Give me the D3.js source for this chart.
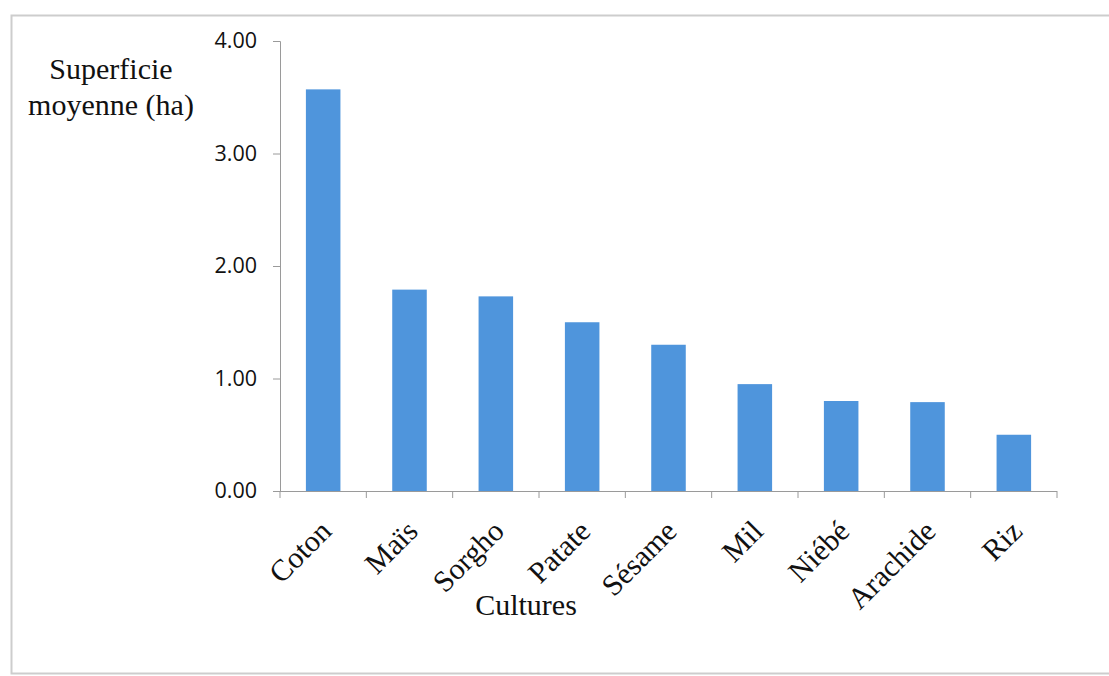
<!DOCTYPE html>
<html>
<head>
<meta charset="utf-8">
<script src="https://cdn.jsdelivr.net/npm/d3@7"></script>
<style>
  html, body { margin: 0; padding: 0; background: #fff; }
  svg { display: block; }
</style>
</head>
<body>
<svg id="chart"></svg>
<script>
// Superficie moyenne par culture (ha)
const cultures = ['Coton', 'Maïs', 'Sorgho', 'Patate', 'Sésame', 'Mil', 'Niébé', 'Arachide', 'Riz'];
const superficies = [3.57, 1.79, 1.73, 1.50, 1.30, 0.95, 0.80, 0.79, 0.50];
const yTicks = [0, 1, 2, 3, 4];

const W = 1109, H = 676;
const plot = { x0: 280, x1: 1057, y0: 491, y1: 41 };   // y0 = baseline (0.00)

const svg = d3.select('#chart').attr('width', W).attr('height', H);

// faint page frame (left + top edges visible in the scan)
svg.append('rect')
  .attr('x', 11.5).attr('y', 15.5)
  .attr('width', W + 40).attr('height', 658)
  .attr('fill', 'none')
  .attr('stroke', '#cdcdcd').attr('stroke-width', 2);

const x = d3.scaleBand()
  .domain(cultures)
  .range([plot.x0, plot.x1])
  .paddingInner(0.6)
  .paddingOuter(0.3);

const y = d3.scaleLinear().domain([0, 4]).range([plot.y0, plot.y1]);

// ── bars ────────────────────────────────────────────────────────────────
svg.append('g')
  .selectAll('rect')
  .data(cultures.map((c, i) => ({ c, v: superficies[i] })))
  .join('rect')
    .attr('x', d => x(d.c))
    .attr('y', d => y(d.v))
    .attr('width', x.bandwidth())
    .attr('height', d => y(0) - y(d.v))
    .attr('fill', '#4f95dc');

// ── y axis ──────────────────────────────────────────────────────────────
const yAxis = svg.append('g')
  .attr('transform', `translate(${plot.x0},0)`)
  .call(d3.axisLeft(y).tickValues(yTicks).tickFormat(d3.format('.2f')).tickSize(7).tickPadding(16));
yAxis.select('.domain').attr('stroke', '#9a9a9a');
yAxis.selectAll('.tick line').attr('stroke', '#9a9a9a');
yAxis.selectAll('.tick text')
  .attr('fill', '#111')
  .style('font-family', '"Open Sans", "DejaVu Sans", sans-serif')
  .style('font-size', '21.5px');

// ── x axis: ticks at category boundaries, rotated serif labels ──────────
const step = x.step();
const boundaries = d3.range(cultures.length + 1).map(i => plot.x0 + i * step);
const xg = svg.append('g');
xg.append('line')
  .attr('x1', plot.x0).attr('x2', plot.x1)
  .attr('y1', plot.y0 + 0.5).attr('y2', plot.y0 + 0.5)
  .attr('stroke', '#9a9a9a');
xg.selectAll('line.tk')
  .data(boundaries)
  .join('line')
    .attr('class', 'tk')
    .attr('x1', d => d).attr('x2', d => d)
    .attr('y1', plot.y0).attr('y2', plot.y0 + 7)
    .attr('stroke', '#9a9a9a');

xg.selectAll('text')
  .data(cultures)
  .join('text')
    .attr('transform', d => `translate(${x(d) + x.bandwidth() / 2 + 10},533) rotate(-45)`)
    .attr('text-anchor', 'end')
    .style('font-family', '"Liberation Serif", "Times New Roman", serif')
    .style('font-size', '30px')
    .attr('fill', '#111')
    .text(d => d);

// ── axis titles ─────────────────────────────────────────────────────────
const title = svg.append('text')
  .attr('text-anchor', 'middle')
  .style('font-family', '"Liberation Serif", "Times New Roman", serif')
  .style('font-size', '30px')
  .attr('fill', '#111');
title.append('tspan').attr('x', 111).attr('y', 79).text('Superficie');
title.append('tspan').attr('x', 111).attr('y', 115).text('moyenne (ha)');

svg.append('text')
  .attr('x', 526).attr('y', 615)
  .attr('text-anchor', 'middle')
  .style('font-family', '"Liberation Serif", "Times New Roman", serif')
  .style('font-size', '30px')
  .attr('fill', '#111')
  .text('Cultures');
</script>
</body>
</html>
